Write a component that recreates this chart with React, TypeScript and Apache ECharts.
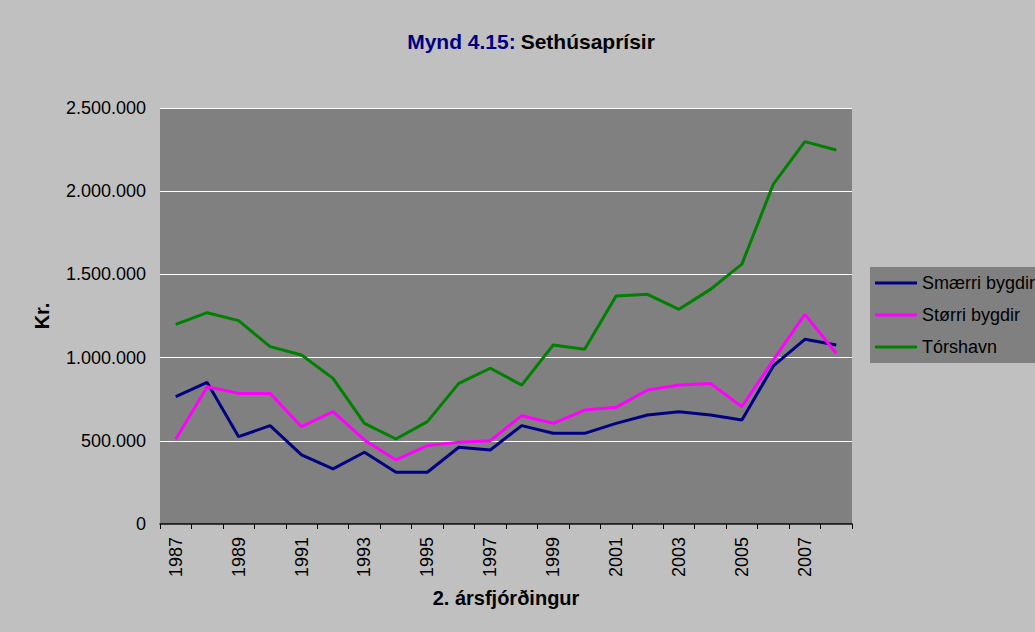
import React, { useEffect, useRef } from "react";
import * as echarts from "echarts";

const years = [
  "1987", "1988", "1989", "1990", "1991", "1992", "1993", "1994", "1995", "1996", "1997",
  "1998", "1999", "2000", "2001", "2002", "2003", "2004", "2005", "2006", "2007", "2008",
];

const smaerriBygdir = [
  765000, 851000, 525000, 591000, 415000, 331000, 431000, 311000, 311000, 461000, 445000,
  591000, 545000, 545000, 605000, 655000, 675000, 655000, 625000, 950000, 1110000, 1076000,
];

const storriBygdir = [
  509000, 825000, 785000, 785000, 585000, 675000, 505000, 385000, 471000, 491000, 501000,
  651000, 605000, 685000, 701000, 805000, 835000, 845000, 705000, 986000, 1260000, 1026000,
];

const torshavn = [
  1200000, 1270000, 1222000, 1066000, 1016000, 875000, 605000, 511000, 615000, 845000, 936000,
  835000, 1076000, 1050000, 1370000, 1380000, 1290000, 1410000, 1562000, 2043000, 2298000, 2248000,
];

const FONT = "'Liberation Sans', Arial, Helvetica, sans-serif";

function fmt(v: number): string {
  return String(Math.round(v)).replace(/\B(?=(\d{3})+(?!\d))/g, ".");
}

export default function App() {
  const ref = useRef<HTMLDivElement>(null);

  useEffect(() => {
    if (!ref.current) return;
    const chart = echarts.init(ref.current, undefined, { renderer: "svg" });
    const mkSeries = (name: string, data: number[], color: string) => ({
      name,
      type: "line",
      data,
      symbol: "none",
      lineStyle: { color, width: 3 },
      itemStyle: { color },
      z: 3,
    });
    chart.setOption({
      animation: false,
      backgroundColor: "#c0c0c0",
      textStyle: { fontFamily: FONT },
      title: {
        text: "{a|Mynd 4.15:} {b|Sethúsaprísir}",
        left: 526,
        textAlign: "center",
        top: 26,
        textStyle: {
          rich: {
            a: { color: "#000080", fontWeight: "bold", fontSize: 21, fontFamily: FONT },
            b: { color: "#000000", fontWeight: "bold", fontSize: 21, fontFamily: FONT },
          },
        },
      },
      legend: {
        orient: "vertical",
        left: 870,
        top: 267,
        width: 200,
        backgroundColor: "#808080",
        padding: [7, 20, 7, 5],
        itemGap: 14,
        itemWidth: 42,
        itemHeight: 3,
        icon: "rect",
        textStyle: { fontSize: 18, color: "#000", fontFamily: FONT, padding: [0, 0, 0, 0] },
        data: ["Smærri bygdir", "Størri bygdir", "Tórshavn"],
      },
      grid: { left: 160, right: 183, top: 108, bottom: 108, show: true, backgroundColor: "#808080", borderWidth: 0 },
      xAxis: {
        type: "category",
        data: years,
        boundaryGap: true,
        name: "2. ársfjórðingur",
        nameLocation: "middle",
        nameGap: 64,
        nameTextStyle: { fontSize: 20, fontWeight: "bold", color: "#000", fontFamily: FONT },
        axisLine: { lineStyle: { color: "#000", width: 1.5 } },
        axisTick: { show: true, interval: 0, length: 5, lineStyle: { color: "#000" } },
        axisLabel: { interval: 1, rotate: 90, fontSize: 18, color: "#000", margin: 13, fontFamily: FONT },
        splitLine: { show: false },
      },
      yAxis: {
        type: "value",
        min: 0,
        max: 2500000,
        interval: 500000,
        name: "Kr.",
        nameLocation: "middle",
        nameGap: 108,
        nameRotate: 90,
        nameTextStyle: { fontSize: 20, fontWeight: "bold", color: "#000", fontFamily: FONT },
        axisLine: { show: false },
        axisTick: { show: false },
        axisLabel: { fontSize: 18, color: "#000", margin: 14, formatter: (v: number) => fmt(v), fontFamily: FONT },
        splitLine: { show: true, lineStyle: { color: "#ffffff", width: 1 } },
      },
      series: [
        mkSeries("Smærri bygdir", smaerriBygdir, "#000080"),
        mkSeries("Størri bygdir", storriBygdir, "#ff00ff"),
        mkSeries("Tórshavn", torshavn, "#008000"),
      ],
    });
    return () => chart.dispose();
  }, []);

  return (
    <div
      ref={ref}
      style={{ position: "fixed", left: 0, top: 0, width: 1035, height: 632 }}
    />
  );
}
